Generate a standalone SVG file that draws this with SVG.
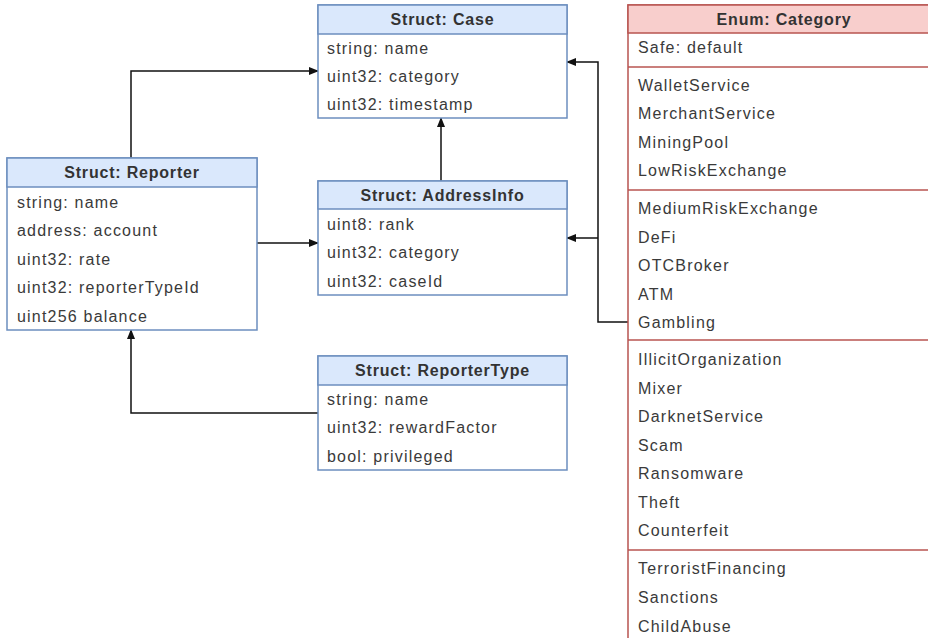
<svg xmlns="http://www.w3.org/2000/svg" width="928" height="638" viewBox="0 0 928 638">
  <style>
    .hdr-s { fill: #dae8fc; stroke: #6c8ebf; stroke-width: 1.5; }
    .body-s { fill: #ffffff; stroke: #6c8ebf; stroke-width: 1.5; }
    .hdr-e { fill: #f8cecc; stroke: #b85450; stroke-width: 1.5; }
    .body-e { fill: #ffffff; stroke: #b85450; stroke-width: 1.5; }
    .sep-e { stroke: #b85450; stroke-width: 1.5; }
    .title { font-family: "Liberation Sans", Arial, sans-serif; font-size: 16px; font-weight: bold; fill: #333333; text-anchor: middle; letter-spacing: 0.8px; }
    .field { font-family: "Liberation Sans", Arial, sans-serif; font-size: 16px; fill: #3a3a3a; letter-spacing: 1.2px; }
    .conn { fill: none; stroke: #111111; stroke-width: 1.5; }
  </style>
  <defs>
    <marker id="arrow" markerWidth="10" markerHeight="8" refX="9" refY="4" orient="auto" markerUnits="userSpaceOnUse">
      <path d="M0,0 L10,4 L0,8 Z" fill="#111111"/>
    </marker>
  </defs>
  <rect width="928" height="638" fill="#ffffff"/>

  <!-- connectors -->
  <g id="connectors">
    <path class="conn" d="M131,158 V71 H318" marker-end="url(#arrow)"/>
    <path class="conn" d="M257,243 H318" marker-end="url(#arrow)"/>
    <path class="conn" d="M441,181 V118" marker-end="url(#arrow)"/>
    <path class="conn" d="M318,413 H131 V330" marker-end="url(#arrow)"/>
    <path class="conn" d="M628,322 H598 V62 H567" marker-end="url(#arrow)"/>
    <path class="conn" d="M598,238 H567" marker-end="url(#arrow)"/>
  </g>

  <!-- Struct: Case -->
  <g id="case">
    <rect class="body-s" x="318" y="5" width="249" height="113"/>
    <rect class="hdr-s" x="318" y="5" width="249" height="29"/>
    <text class="title" x="442.5" y="25">Struct: Case</text>
    <text class="field" x="327" y="54">string: name</text>
    <text class="field" x="327" y="82">uint32: category</text>
    <text class="field" x="327" y="110">uint32: timestamp</text>
  </g>

  <!-- Struct: Reporter -->
  <g id="reporter">
    <rect class="body-s" x="7" y="158" width="250" height="172"/>
    <rect class="hdr-s" x="7" y="158" width="250" height="29"/>
    <text class="title" x="132" y="178">Struct: Reporter</text>
    <text class="field" x="17" y="208">string: name</text>
    <text class="field" x="17" y="236">address: account</text>
    <text class="field" x="17" y="265">uint32: rate</text>
    <text class="field" x="17" y="293">uint32: reporterTypeId</text>
    <text class="field" x="17" y="322">uint256 balance</text>
  </g>

  <!-- Struct: AddressInfo -->
  <g id="addressinfo">
    <rect class="body-s" x="318" y="181" width="249" height="114"/>
    <rect class="hdr-s" x="318" y="181" width="249" height="28"/>
    <text class="title" x="442.5" y="201">Struct: AddressInfo</text>
    <text class="field" x="327" y="230">uint8: rank</text>
    <text class="field" x="327" y="258">uint32: category</text>
    <text class="field" x="327" y="287">uint32: caseId</text>
  </g>

  <!-- Struct: ReporterType -->
  <g id="reportertype">
    <rect class="body-s" x="318" y="356" width="249" height="114"/>
    <rect class="hdr-s" x="318" y="356" width="249" height="29"/>
    <text class="title" x="442.5" y="376">Struct: ReporterType</text>
    <text class="field" x="327" y="405">string: name</text>
    <text class="field" x="327" y="433">uint32: rewardFactor</text>
    <text class="field" x="327" y="462">bool: privileged</text>
  </g>

  <!-- Enum: Category -->
  <g id="category">
    <rect class="body-e" x="628" y="5" width="312" height="660"/>
    <rect class="hdr-e" x="628" y="5" width="312" height="28"/>
    <text class="title" x="784" y="25">Enum: Category</text>
    <text class="field" x="638" y="53">Safe: default</text>
    <line class="sep-e" x1="628" y1="67" x2="940" y2="67"/>
    <text class="field" x="638" y="91">WalletService</text>
    <text class="field" x="638" y="119">MerchantService</text>
    <text class="field" x="638" y="148">MiningPool</text>
    <text class="field" x="638" y="176">LowRiskExchange</text>
    <line class="sep-e" x1="628" y1="190" x2="940" y2="190"/>
    <text class="field" x="638" y="214">MediumRiskExchange</text>
    <text class="field" x="638" y="243">DeFi</text>
    <text class="field" x="638" y="271">OTCBroker</text>
    <text class="field" x="638" y="300">ATM</text>
    <text class="field" x="638" y="328">Gambling</text>
    <line class="sep-e" x1="628" y1="340" x2="940" y2="340"/>
    <text class="field" x="638" y="365">IllicitOrganization</text>
    <text class="field" x="638" y="394">Mixer</text>
    <text class="field" x="638" y="422">DarknetService</text>
    <text class="field" x="638" y="451">Scam</text>
    <text class="field" x="638" y="479">Ransomware</text>
    <text class="field" x="638" y="508">Theft</text>
    <text class="field" x="638" y="536">Counterfeit</text>
    <line class="sep-e" x1="628" y1="550" x2="940" y2="550"/>
    <text class="field" x="638" y="574">TerroristFinancing</text>
    <text class="field" x="638" y="603">Sanctions</text>
    <text class="field" x="638" y="632">ChildAbuse</text>
  </g>
</svg>
